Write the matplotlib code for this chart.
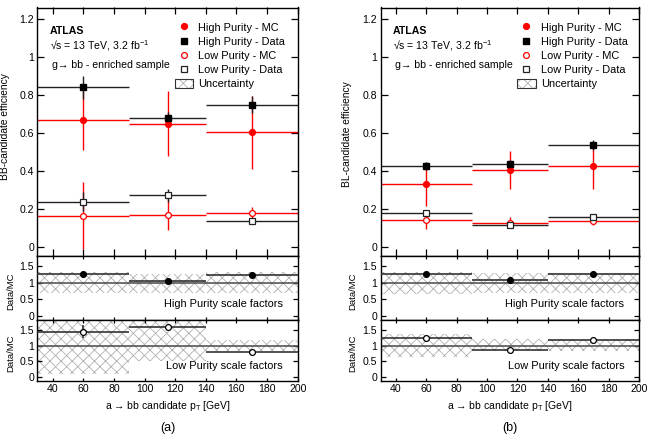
import numpy as np
import matplotlib
matplotlib.use("Agg")
import matplotlib.pyplot as plt
from matplotlib.lines import Line2D
from matplotlib.patches import Patch
from matplotlib.ticker import FuncFormatter, MultipleLocator

plt.rcParams['font.family'] = ['Liberation Sans', 'DejaVu Sans']
plt.rcParams['mathtext.fontset'] = 'custom'
plt.rcParams['mathtext.rm'] = 'Liberation Sans'
plt.rcParams['mathtext.it'] = 'Liberation Sans:italic'
plt.rcParams['hatch.linewidth'] = 0.6

# ---------------- data ----------------
bin_edges = [30, 90, 140, 200]
pt_centers = [60, 115, 170]

# panel (a): BB-candidate
a_hp_mc = [0.665, 0.648, 0.603]
a_hp_mc_err = [0.155, 0.170, 0.192]
a_hp_data = [0.838, 0.675, 0.746]
a_hp_data_err = [0.060, 0.033, 0.045]
a_lp_mc = [0.163, 0.169, 0.176]
a_lp_mc_err = [0.175, 0.083, 0.033]
a_lp_data = [0.237, 0.270, 0.136]
a_lp_data_err = [0.050, 0.035, 0.010]
a_hp_sf = [1.26, 1.05, 1.24]
a_hp_sf_err = [0.03, 0.02, 0.03]
a_lp_sf = [1.44, 1.59, 0.79]
a_lp_sf_err = [0.20, 0.05, 0.03]
a_hp_band_lo = [0.70, 0.70, 0.69]
a_hp_band_hi = [1.33, 1.26, 1.33]
a_lp_band_lo = [0.10, 0.50, 0.82]
a_lp_band_hi = [1.95, 1.95, 1.19]

# panel (b): BL-candidate
b_hp_mc = [0.329, 0.403, 0.425]
b_hp_mc_err = [0.115, 0.100, 0.120]
b_hp_data = [0.424, 0.437, 0.536]
b_hp_data_err = [0.020, 0.020, 0.025]
b_lp_mc = [0.141, 0.127, 0.135]
b_lp_mc_err = [0.050, 0.030, 0.020]
b_lp_data = [0.178, 0.112, 0.157]
b_lp_data_err = [0.012, 0.008, 0.010]
b_hp_sf = [1.28, 1.09, 1.27]
b_hp_sf_err = [0.02, 0.02, 0.02]
b_lp_sf = [1.25, 0.87, 1.18]
b_lp_sf_err = [0.02, 0.02, 0.02]
b_hp_band_lo = [0.67, 0.70, 0.70]
b_hp_band_hi = [1.32, 1.30, 1.30]
b_lp_band_lo = [0.64, 0.83, 0.82]
b_lp_band_hi = [1.36, 1.20, 1.20]

legend_labels = ["High Purity - MC", "High Purity - Data", "Low Purity - MC",
                 "Low Purity - Data", "Uncertainty"]

RED = '#ff0000'
BLK = '#222222'
HATCH_C = '#b0b0b0'
FS = 7.6

W, H = 653, 443
fig = plt.figure(figsize=(W / 100, H / 100), dpi=100)


def frac_box(x0, x1, ytop, ybot):
    return [x0 / W, 1 - ybot / H, (x1 - x0) / W, (ybot - ytop) / H]


xc = np.array(pt_centers, dtype=float)
edges = np.array(bin_edges, dtype=float)
xlo = xc - edges[:-1]
xhi = edges[1:] - xc
widths = np.diff(edges)


def fmt(v, p):
    return '%g' % round(v, 3)


def style_axis(ax, xt_len=5, yt_len=5):
    ax.set_xlim(30, 200)
    ax.xaxis.set_major_locator(MultipleLocator(20))
    ax.tick_params(axis='both', which='both', direction='in', top=True, right=True,
                   labelsize=FS, width=0.9, pad=2.5)
    ax.tick_params(axis='x', length=xt_len)
    ax.tick_params(axis='y', length=yt_len)
    ax.yaxis.set_major_formatter(FuncFormatter(fmt))
    for s in ax.spines.values():
        s.set_linewidth(1.0)


def draw_panel(x0, x1, hp_mc, hp_mc_e, hp_d, hp_d_e, lp_mc, lp_mc_e, lp_d, lp_d_e,
               hp_sf, hp_sf_e, lp_sf, lp_sf_e, hlo, hhi, llo, lhi,
               ylabel, tag, ylab_x, ylab_y, dm_x):
    axm = fig.add_axes(frac_box(x0, x1, 7.5, 255.7))
    axh = fig.add_axes(frac_box(x0, x1, 255.7, 319.7))
    axl = fig.add_axes(frac_box(x0, x1, 319.7, 381.0))

    # main panel
    kw = dict(xerr=[xlo, xhi], linestyle='none', elinewidth=1.0, capsize=0, markersize=4.2)
    axm.errorbar(xc, hp_mc, yerr=hp_mc_e, fmt='o', color=RED, mfc=RED, mec=RED, **kw)
    axm.errorbar(xc, lp_mc, yerr=lp_mc_e, fmt='o', color=RED, mfc='white', mec=RED, mew=0.9, **kw)
    axm.errorbar(xc, hp_d, yerr=hp_d_e, fmt='s', color=BLK, mfc='black', mec='black', **kw)
    axm.errorbar(xc, lp_d, yerr=lp_d_e, fmt='s', color=BLK, mfc='white', mec=BLK, mew=0.9, **kw)
    axm.set_ylim(-0.047, 1.258)
    axm.yaxis.set_major_locator(MultipleLocator(0.2))
    style_axis(axm)
    axm.tick_params(labelbottom=False)
    axm.set_ylabel(ylabel, fontsize=7.4)
    axm.yaxis.set_label_coords(ylab_x, ylab_y)

    axm.text(0.047, 0.905, "ATLAS", transform=axm.transAxes, fontsize=7.6,
             fontweight='bold', va='center', ha='left')
    axm.text(0.047, 0.846, "\u221as = 13 TeV, 3.2 fb$^{-1}$", transform=axm.transAxes,
             fontsize=7.6, va='center', ha='left')
    axm.text(0.055, 0.770, "g\u2192 bb - enriched sample", transform=axm.transAxes,
             fontsize=7.6, va='center', ha='left')

    handles = [
        Line2D([], [], marker='o', linestyle='none', color=RED, markersize=4.2),
        Line2D([], [], marker='s', linestyle='none', color='black', markersize=4.2),
        Line2D([], [], marker='o', linestyle='none', mfc='white', mec=RED, markersize=4.2, mew=0.9),
        Line2D([], [], marker='s', linestyle='none', mfc='white', mec=BLK, markersize=4.2, mew=0.9),
        (Patch(facecolor='white', edgecolor=HATCH_C, hatch='xxx', linewidth=0),
         Patch(facecolor='none', edgecolor='#333333', linewidth=0.8)),
    ]
    axm.legend(handles, legend_labels, loc='upper left', bbox_to_anchor=(0.528, 0.94),
               frameon=False, fontsize=7.9, handlelength=1.7, handleheight=0.85,
               handletextpad=0.45, labelspacing=0.36, borderpad=0, borderaxespad=0)

    # ratio panels
    for ax, sf, sfe, lo, hi, filled, txt in [
            (axh, hp_sf, hp_sf_e, hlo, hhi, True, "High Purity scale factors"),
            (axl, lp_sf, lp_sf_e, llo, lhi, False, "Low Purity scale factors")]:
        lo = np.array(lo)
        hi = np.array(hi)
        ax.bar(xc, hi - lo, bottom=lo, width=widths, align='center', fill=False,
               hatch='xxx', edgecolor=HATCH_C, linewidth=0, zorder=1)
        ax.axhline(1.0, color='#555555', lw=1.2, zorder=2)
        ax.errorbar(xc, sf, yerr=sfe, xerr=[xlo, xhi], fmt='o', linestyle='none',
                    color='#333333', elinewidth=1.2, capsize=0, markersize=4.2,
                    mfc='black' if filled else 'white', mec='black', mew=0.9, zorder=3)
        ax.set_ylim(-0.12, 1.82)
        ax.set_yticks([0, 0.5, 1, 1.5])
        style_axis(ax, xt_len=2.5, yt_len=3.5)
        ax.set_ylabel("Data/MC", fontsize=6.8)
        ax.yaxis.set_label_coords(dm_x, 0.45)
        ax.text(0.943, 0.24, txt, transform=ax.transAxes, ha='right', va='center',
                fontsize=7.9)
    axh.tick_params(labelbottom=False)
    axl.set_xlabel("a \u2192 bb candidate p$_\\mathrm{T}$ [GeV]", fontsize=7.5, labelpad=3)
    fig.text(((x0 + x1) / 2) / W, 1 - 428 / H, tag, ha='center', va='center', fontsize=9)


draw_panel(37.4, 297.7, a_hp_mc, a_hp_mc_err, a_hp_data, a_hp_data_err,
           a_lp_mc, a_lp_mc_err, a_lp_data, a_lp_data_err,
           a_hp_sf, a_hp_sf_err, a_lp_sf, a_lp_sf_err,
           a_hp_band_lo, a_hp_band_hi, a_lp_band_lo, a_lp_band_hi,
           "BB-candidate efficiency", "(a)", -0.105, 0.52, -0.086)
draw_panel(380.8, 639.0, b_hp_mc, b_hp_mc_err, b_hp_data, b_hp_data_err,
           b_lp_mc, b_lp_mc_err, b_lp_data, b_lp_data_err,
           b_hp_sf, b_hp_sf_err, b_lp_sf, b_lp_sf_err,
           b_hp_band_lo, b_hp_band_hi, b_lp_band_lo, b_lp_band_hi,
           "BL-candidate efficiency", "(b)", -0.11, 0.49, -0.092)

fig.savefig("out.png", dpi=100)
